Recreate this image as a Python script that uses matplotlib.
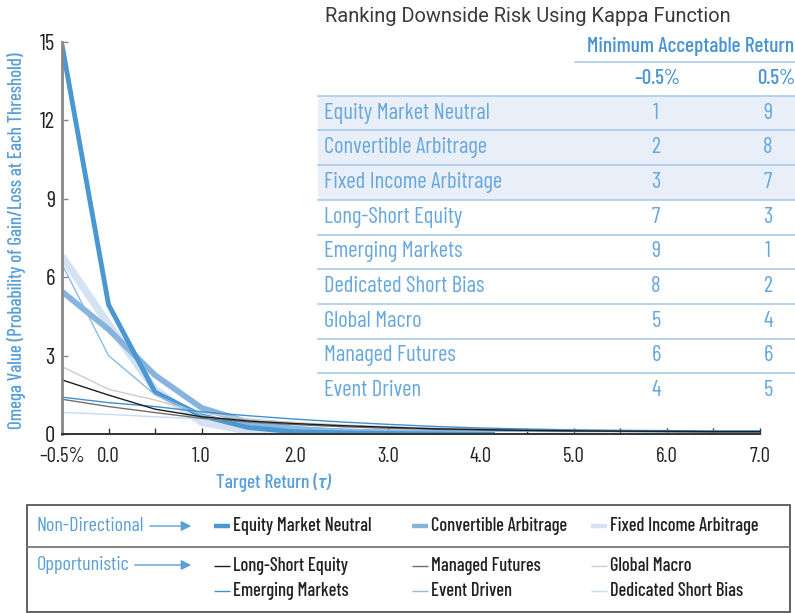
import matplotlib
matplotlib.use("Agg")
import matplotlib.pyplot as plt
from matplotlib.lines import Line2D
from matplotlib.patches import Rectangle, FancyArrowPatch

# ---------------- data ----------------
x_full = [-0.5, 0.0, 0.5, 1.0, 1.5, 2.0, 2.5, 3.0, 3.5, 4.0, 4.5, 5.0, 5.5, 6.0, 6.5, 7.0]
x_short = [-0.5, 0.0, 0.5, 1.0, 1.5, 2.0, 2.5, 3.0, 3.5, 4.0, 4.15]

emn = [14.9, 4.95, 1.6, 0.7, 0.25, 0.08, 0.04, 0.03, 0.02, 0.02, 0.02]
ca = [5.45, 4.0, 2.25, 1.0, 0.45, 0.2, 0.1, 0.06, 0.04, 0.03, 0.03]
fia = [6.8, 4.2, 1.7, 0.45, 0.12, 0.04, 0.02, 0.01, 0.01, 0.0, 0.0]

lse = [2.07, 1.49, 0.95, 0.66, 0.5, 0.4, 0.32, 0.26, 0.2, 0.17, 0.14, 0.12, 0.11, 0.1, 0.09, 0.09]
em = [1.41, 1.2, 1.05, 0.85, 0.7, 0.57, 0.46, 0.37, 0.29, 0.23, 0.19, 0.16, 0.14, 0.13, 0.12, 0.12]
mf = [1.33, 1.05, 0.82, 0.6, 0.46, 0.36, 0.28, 0.22, 0.18, 0.15, 0.13, 0.11, 0.1, 0.09, 0.08, 0.08]
ed = [6.5, 3.0, 1.5, 0.72, 0.4, 0.25, 0.18, 0.14, 0.12, 0.1, 0.1, 0.09, 0.09, 0.08, 0.08, 0.08]
gm = [2.58, 1.71, 1.3, 0.8, 0.58, 0.44, 0.34, 0.27, 0.22, 0.18, 0.15, 0.13, 0.12, 0.1, 0.1, 0.09]
dsb = [0.83, 0.75, 0.66, 0.58, 0.5, 0.42, 0.35, 0.28, 0.22, 0.17, 0.14, 0.12, 0.1, 0.09, 0.08, 0.08]

xtick_vals = [-0.5, 0.0, 1.0, 2.0, 3.0, 4.0, 5.0, 6.0, 7.0]
xtick_labels = ["–0.5%", "0.0", "1.0", "2.0", "3.0", "4.0", "5.0", "6.0", "7.0"]
ytick_vals = [0, 3, 6, 9, 12, 15]

table_rows = ["Equity Market Neutral", "Convertible Arbitrage", "Fixed Income Arbitrage",
              "Long-Short Equity", "Emerging Markets", "Dedicated Short Bias",
              "Global Macro", "Managed Futures", "Event Driven"]
rank_neg = [1, 2, 3, 7, 9, 8, 5, 6, 4]
rank_pos = [9, 8, 7, 3, 1, 2, 4, 6, 5]

# ---------------- styles ----------------
COND = ["Barlow Condensed", "Roboto Condensed", "DejaVu Sans"]
BLUE_TXT = "#5a9fd8"
plt.rcParams["font.family"] = COND

W, H = 795, 613
fig = plt.figure(figsize=(W / 100, H / 100), dpi=100)


def fx(px):
    return px / W


def fy(py):
    return 1 - py / H


# table shading drawn first (behind everything)
top = 95.7
rh = 34.7
n_shade = 3
fig.add_artist(Rectangle((fx(318), fy(top + n_shade * rh)), fx(795) - fx(318), n_shade * rh / H,
                         facecolor="#e9eff8", edgecolor="none", zorder=-5))

ax = fig.add_axes([fx(62), fy(434), fx(760) - fx(62), fy(42) - fy(434)])
ax.patch.set_visible(False)
ax.set_xlim(-0.5, 7.0)
ax.set_ylim(0, 15)

thick = [
    (fia, "#d4e2f3", 5.4, "Fixed Income Arbitrage"),
    (ca, "#86b4de", 4.2, "Convertible Arbitrage"),
    (emn, "#4b97d1", 3.5, "Equity Market Neutral"),
]
for ys, c, lw, name in thick:
    ax.plot(x_short, ys, color=c, lw=lw, solid_joinstyle="miter", solid_capstyle="butt", label=name)

thin = [
    (dsb, "#c9dcf1", "Dedicated Short Bias"),
    (gm, "#cdcdcd", "Global Macro"),
    (ed, "#8cbbe6", "Event Driven"),
    (mf, "#707070", "Managed Futures"),
    (em, "#3f90d2", "Emerging Markets"),
    (lse, "#1e1e1e", "Long-Short Equity"),
]
for ys, c, name in thin:
    ax.plot(x_full, ys, color=c, lw=1.0, label=name)

for s in ["top", "right"]:
    ax.spines[s].set_visible(False)
ax.spines["left"].set_color("#888888")
ax.spines["left"].set_linewidth(2.0)
ax.spines["bottom"].set_color("#333333")
ax.spines["bottom"].set_linewidth(1.4)

ax.set_xticks(xtick_vals)
ax.set_xticklabels(xtick_labels)
ax.set_xticks([0.5, 1.5, 2.5, 3.5, 4.5, 5.5, 6.5], minor=True)
ax.set_yticks(ytick_vals)
ax.tick_params(axis="x", which="both", direction="in", length=4, width=1.0, color="#333333",
               pad=9, labelsize=15, labelcolor="#222222")
ax.tick_params(axis="y", direction="in", length=4.5, width=1.0, color="#888888",
               pad=5, labelsize=16.5, labelcolor="#222222")

fig.text(fx(17), fy(241), "Omega Value (Probability of Gain/Loss at Each Threshold)",
         rotation=90, ha="center", va="center", color=BLUE_TXT, fontsize=13.6, fontweight="medium")
fig.text(fx(318), fy(483), "Target Return (", ha="right", va="center", color=BLUE_TXT,
         fontsize=14, fontweight="medium")
fig.text(fx(318), fy(483), "τ)", ha="left", va="center", color=BLUE_TXT,
         fontsize=14, fontweight="medium", style="italic")

# ---------------- table ----------------
fig.text(fx(325), fy(16), "Ranking Downside Risk Using Kappa Function", ha="left", va="center",
         color="#3a3a3a", fontsize=14.4, family=["Roboto", "DejaVu Sans"], fontweight="normal")
fig.text(fx(794), fy(46), "Minimum Acceptable Return", ha="right", va="center",
         color="#4a94d2", fontsize=15.4, fontweight="medium")
fig.add_artist(Line2D([fx(575), fx(795)], [fy(61.5), fy(61.5)], color="#a9cbea", lw=1.2))
col1, col2 = 656, 768
fig.text(fx(657), fy(79), "–0.5%", ha="center", va="center", color="#4a94d2", fontsize=15,
         fontweight="medium")
fig.text(fx(776), fy(79), "0.5%", ha="center", va="center", color="#4a94d2", fontsize=15,
         fontweight="medium")

TBL_TXT = "#66a7dd"
for i, (name, r1, r2) in enumerate(zip(table_rows, rank_neg, rank_pos)):
    y0 = top + i * rh
    fig.add_artist(Line2D([fx(318), fx(795)], [fy(y0), fy(y0)], color="#a9cbea", lw=1.2))
    yc = y0 + rh / 2
    fig.text(fx(324), fy(yc), name, ha="left", va="center", color=TBL_TXT, fontsize=16.3,
             fontweight="normal")
    fig.text(fx(col1), fy(yc), str(r1), ha="center", va="center", color=TBL_TXT, fontsize=16.3,
             fontweight="normal")
    fig.text(fx(col2), fy(yc), str(r2), ha="center", va="center", color=TBL_TXT, fontsize=16.3,
             fontweight="normal")

# ---------------- legend box ----------------
fig.add_artist(Rectangle((fx(27), fy(611.5)), fx(790) - fx(27), (611.5 - 504.5) / H,
                         facecolor="none", edgecolor="#555555", lw=1.3))
fig.add_artist(Line2D([fx(27), fx(790)], [fy(546.5), fy(546.5)], color="#777777", lw=1.3))

fig.text(fx(37), fy(526), "Non-Directional", ha="left", va="center", color=BLUE_TXT, fontsize=14.5)
fig.text(fx(37), fy(565), "Opportunistic", ha="left", va="center", color=BLUE_TXT, fontsize=14.5)
for x0, yy in [(147, 526), (132, 565)]:
    fig.add_artist(FancyArrowPatch(
        (fx(x0), fy(yy)), (fx(194), fy(yy)), transform=fig.transFigure,
        arrowstyle="-|>,head_length=4,head_width=2", color=BLUE_TXT, lw=1.0, mutation_scale=1.5))

handles = {h.get_label(): h for h in ax.get_lines()}
legend_slots = [
    ("Equity Market Neutral", 214, 526), ("Convertible Arbitrage", 412, 526),
    ("Fixed Income Arbitrage", 591, 526),
    ("Long-Short Equity", 214, 566), ("Managed Futures", 412, 566), ("Global Macro", 591, 566),
    ("Emerging Markets", 214, 591), ("Event Driven", 412, 591), ("Dedicated Short Bias", 591, 591),
]
for name, x0, yy in legend_slots:
    h = handles[name]
    lw = h.get_linewidth()
    fig.add_artist(Line2D([fx(x0), fx(x0 + 16)], [fy(yy), fy(yy)], color=h.get_color(),
                          lw=min(lw, 3.2), solid_capstyle="butt"))
    fig.text(fx(x0 + 19), fy(yy), name, ha="left", va="center", color="#222222", fontsize=13.3,
             fontweight="medium")

fig.savefig("out.png", dpi=100)
